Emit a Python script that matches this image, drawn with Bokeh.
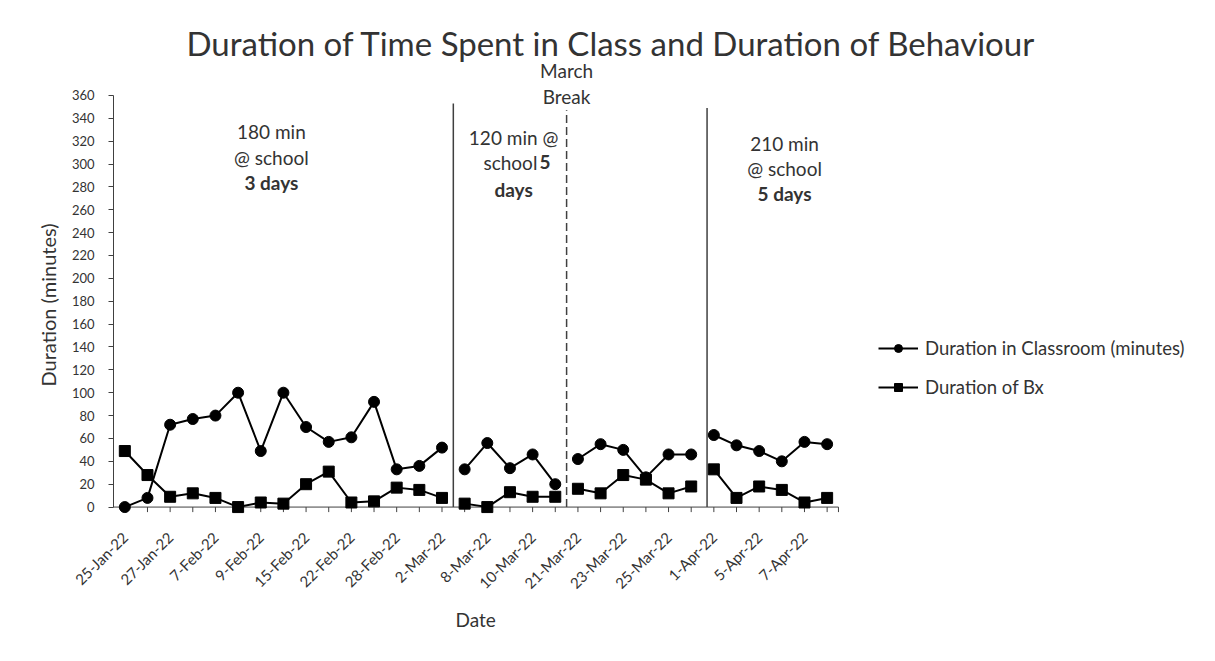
import math
import numpy as np
from bokeh.plotting import figure
from bokeh.models import Range1d, FixedTicker, Legend, LegendItem, Title
from bokeh.core.properties import value
from bokeh.embed import file_html
from bokeh.resources import INLINE

# ---------------- data ----------------
tick_labels = ["25-Jan-22", "27-Jan-22", "7-Feb-22", "9-Feb-22", "15-Feb-22",
               "22-Feb-22", "28-Feb-22", "2-Mar-22", "8-Mar-22", "10-Mar-22",
               "21-Mar-22", "23-Mar-22", "25-Mar-22", "1-Apr-22", "5-Apr-22",
               "7-Apr-22"]
classroom = [0, 8, 72, 77, 80, 100, 49, 100, 70, 57, 61, 92, 33, 36, 52,
             33, 56, 34, 46, 20,
             42, 55, 50, 26, 46, 46,
             63, 54, 49, 40, 57, 55]
bx = [49, 28, 9, 12, 8, 0, 4, 3, 20, 31, 4, 5, 17, 15, 8,
      3, 0, 13, 9, 9,
      16, 12, 28, 24, 12, 18,
      33, 8, 18, 15, 4, 8]
group_sizes = [15, 5, 6, 6]
separator_x = [14.5, 19.5, 25.7]
separator_top = [353, 347, 349]
separator_dash = ["solid", "8 4", "solid"]
y_ticks = list(range(0, 361, 20))

FONT = "Lato"
TXT = "#333333"
AX = "#404040"

n = len(classroom)
xs = list(range(n))


def broken(vals):
    bx_, by_ = [], []
    s = 0
    for g in group_sizes:
        bx_ += list(range(s, s + g)) + [np.nan]
        by_ += list(vals[s:s + g]) + [np.nan]
        s += g
    return bx_, by_


p = figure(width=1199, height=645, output_backend="svg", toolbar_location=None,
           x_range=Range1d(-0.5, 47.26), y_range=Range1d(-10, 436),
           min_border_left=113, min_border_right=4, min_border_top=8,
           min_border_bottom=127)
p.outline_line_color = None
p.xgrid.visible = False
p.ygrid.visible = False
p.background_fill_color = "white"
p.border_fill_color = "white"

# y axis
ya = p.yaxis[0]
ya.bounds = (0, 360)
ya.ticker = FixedTicker(ticks=y_ticks)
ya.major_tick_out = 5
ya.major_tick_in = 0
ya.minor_tick_line_color = None
ya.axis_line_color = AX
ya.major_tick_line_color = AX
ya.major_label_text_font = FONT
ya.major_label_text_font_size = "13px"
ya.major_label_text_color = TXT
ya.major_label_standoff = 14

# x axis (labels only; line and ticks drawn at y = 0)
xa = p.xaxis[0]
xa.bounds = (-0.5, n - 0.5)
xa.ticker = FixedTicker(ticks=xs)
xa.major_label_overrides = {i: (tick_labels[i // 2] if i % 2 == 0 else "") for i in xs}
xa.major_label_orientation = math.pi / 4
xa.axis_line_color = None
xa.major_tick_line_color = None
xa.minor_tick_line_color = None
xa.major_tick_out = 0
xa.major_tick_in = 0
xa.major_label_standoff = 16
xa.major_label_text_font = FONT
xa.major_label_text_font_size = "15px"
xa.major_label_text_color = TXT

# axis titles placed as side-panel titles so they can be positioned freely
p.add_layout(Title(text="Date", align="left", offset=342, standoff=8,
                   text_font=FONT, text_font_size="19px",
                   text_font_style="normal", text_color=TXT), "below")
p.add_layout(Title(text="Duration (minutes)", align="left", offset=132,
                   standoff=17, text_font=FONT, text_font_size="20px",
                   text_font_style="normal", text_color=TXT), "left")

p.segment(x0=[-0.5], y0=[0], x1=[n - 0.5], y1=[0], line_color=AX, line_width=1)
tpos = xs + [n - 0.5]
p.segment(x0=tpos, y0=[0] * len(tpos), x1=tpos, y1=[-4.4] * len(tpos),
          line_color=AX, line_width=1)

# separators
for sx, st, sd in zip(separator_x, separator_top, separator_dash):
    p.segment(x0=[sx], y0=[0], x1=[sx], y1=[st], line_color=AX, line_width=1.5,
              line_dash=sd)

# series
cx, cy = broken(classroom)
bxx, bxy = broken(bx)
rc_l = p.line(cx, cy, line_color="black", line_width=2)
rc_p = p.scatter(xs, classroom, marker="circle", size=11, color="black")
rb_l = p.line(bxx, bxy, line_color="black", line_width=2)
rb_p = p.scatter(xs, bx, marker="square", size=11, color="black")

legend = Legend(items=[
    LegendItem(label="Duration in Classroom (minutes)", renderers=[rc_l, rc_p]),
    LegendItem(label="Duration of Bx", renderers=[rb_l, rb_p]),
], location=(765, 120), glyph_width=40, glyph_height=20, label_standoff=7,
    spacing=17, padding=0, margin=0, border_line_color=None,
    background_fill_alpha=0, label_text_font=FONT, label_text_font_size="18.5px",
    label_text_color=TXT)
p.add_layout(legend)


# texts
def txt(x, y, s, size="19px", bold=False, align="center"):
    p.text(x=[x], y=[y], text=[s], text_font=value(FONT), text_font_size=size,
           text_font_style="bold" if bold else "normal", text_color=TXT,
           text_align=align, text_baseline="middle")


txt(21.48, 406.0, "Duration of Time Spent in Class and Duration of Behaviour", size="33px")
txt(19.5, 381.5, "March")
txt(19.5, 358.7, "Break")
txt(6.47, 328.5, "180 min")
txt(6.47, 305.8, "@ school")
txt(6.47, 283.9, "3 days", bold=True)
txt(17.16, 323.2, "120 min @")
txt(18.21, 301.4, "school", align="right")
txt(18.30, 301.4, "5", bold=True, align="left")
txt(17.16, 277.8, "days", bold=True)
txt(29.12, 318.0, "210 min")
txt(29.12, 296.1, "@ school")
txt(29.12, 274.3, "5 days", bold=True)

open("out.html", "w").write(file_html(p, INLINE))
